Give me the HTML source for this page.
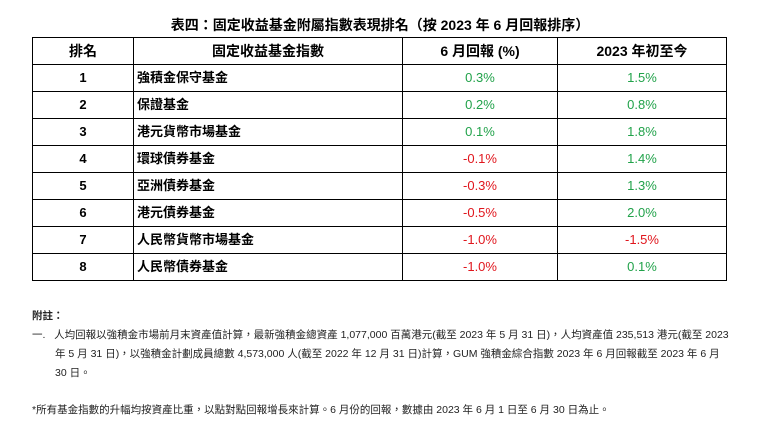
<!DOCTYPE html>
<html><head><meta charset="utf-8"><style>
body{margin:0;width:760px;height:433px;background:#fff;font-family:"Liberation Sans","Noto Sans CJK TC",sans-serif;color:#000;position:relative;overflow:hidden}
.t{position:absolute;top:16px;left:0;width:760px;text-align:center;font-size:14px;font-weight:bold;line-height:18px}
table{position:absolute;left:32px;top:37px;border-collapse:collapse;font-size:13px}
td,th{border:1px solid #000;padding:0;height:26px;line-height:16px}
th{font-size:14px}
td.c{text-align:center;font-weight:bold}
td.n{padding-left:3px;font-weight:bold}
.g{color:#21a24a;text-align:center}.r{color:#e0161d;text-align:center}
.f{position:absolute;left:32px;font-size:10.5px;color:#222}
</style></head><body>
<div class="t">表四：固定收益基金附屬指數表現排名（按 2023 年 6 月回報排序）</div>
<table>
<tr><th style="width:100px">排名</th><th style="width:268px">固定收益基金指數</th><th style="width:154px">6 月回報 (%)</th><th style="width:168px">2023 年初至今</th></tr>
<tr><td class="c">1</td><td class="n">強積金保守基金</td><td class="g">0.3%</td><td class="g">1.5%</td></tr>
<tr><td class="c">2</td><td class="n">保證基金</td><td class="g">0.2%</td><td class="g">0.8%</td></tr>
<tr><td class="c">3</td><td class="n">港元貨幣市場基金</td><td class="g">0.1%</td><td class="g">1.8%</td></tr>
<tr><td class="c">4</td><td class="n">環球債券基金</td><td class="r">-0.1%</td><td class="g">1.4%</td></tr>
<tr><td class="c">5</td><td class="n">亞洲債券基金</td><td class="r">-0.3%</td><td class="g">1.3%</td></tr>
<tr><td class="c">6</td><td class="n">港元債券基金</td><td class="r">-0.5%</td><td class="g">2.0%</td></tr>
<tr><td class="c">7</td><td class="n">人民幣貨幣市場基金</td><td class="r">-1.0%</td><td class="r">-1.5%</td></tr>
<tr><td class="c">8</td><td class="n">人民幣債券基金</td><td class="r">-1.0%</td><td class="g">0.1%</td></tr>
</table>
<div class="f" style="top:308px;font-weight:bold">附註：</div>
<div class="f" style="top:326px;width:700px;line-height:19px">一.&nbsp;&nbsp;&nbsp;人均回報以強積金市場前月末資產值計算，最新強積金總資產 1,077,000 百萬港元(截至 2023 年 5 月 31 日)，人均資產值 235,513 港元(截至 2023<br><span style="padding-left:23px">年 5 月 31 日)，以強積金計劃成員總數 4,573,000 人(截至 2022 年 12 月 31 日)計算，GUM 強積金綜合指數 2023 年 6 月回報截至 2023 年 6 月</span><br><span style="padding-left:23px">30 日。</span></div>
<div class="f" style="top:402px">*所有基金指數的升幅均按資產比重，以點對點回報增長來計算。6 月份的回報，數據由 2023 年 6 月 1 日至 6 月 30 日為止。</div>
</body></html>
